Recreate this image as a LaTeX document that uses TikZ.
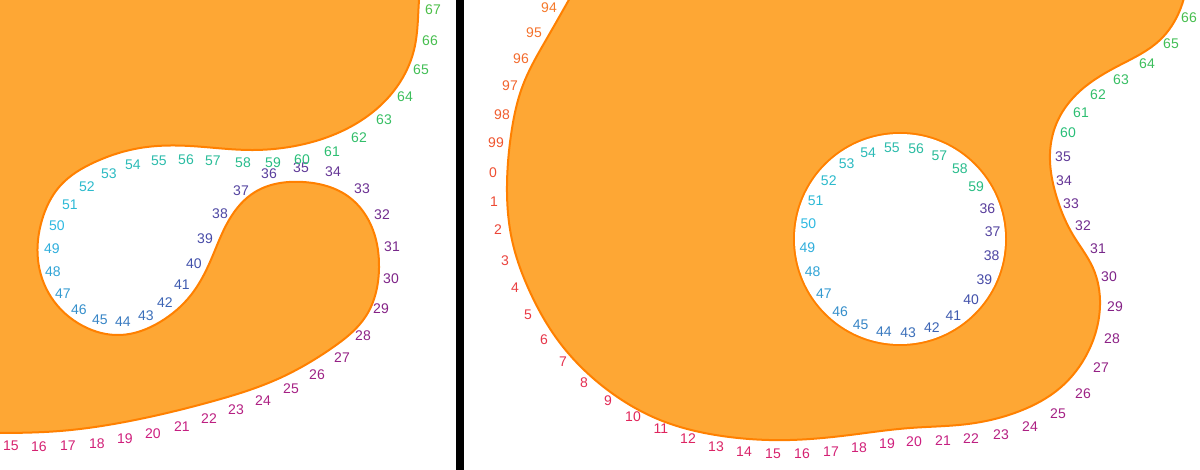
\documentclass[tikz,border=0pt]{standalone}
\usepackage{fontspec}
\setmainfont{Liberation Sans}
\usepackage{tikz}
\usetikzlibrary{hobby}

\definecolor{blobfill}{RGB}{254,167,52}
\definecolor{blobline}{RGB}{255,128,0}
% label palette, one colour every ten numbers
\definecolor{pal0}{RGB}{238,78,48}
\definecolor{pal1}{RGB}{225,38,90}
\definecolor{pal2}{RGB}{205,30,128}
\definecolor{pal3}{RGB}{125,35,135}
\definecolor{pal4}{RGB}{65,80,170}
\definecolor{pal5}{RGB}{45,185,225}
\definecolor{pal6}{RGB}{40,190,120}
\definecolor{pal7}{RGB}{90,190,50}
\definecolor{pal8}{RGB}{190,180,40}
\definecolor{pal9}{RGB}{250,150,40}
\definecolor{pal10}{RGB}{238,78,48}
\newcommand{\numcolor}[1]{%
  \pgfmathtruncatemacro\numlo{floor(#1/10)}%
  \pgfmathtruncatemacro\numhi{\numlo+1}%
  \pgfmathtruncatemacro\numpc{100-10*(#1-10*\numlo)}%
  \colorlet{numcol}{pal\numlo!\numpc!pal\numhi}}

\begin{document}
\begin{tikzpicture}[x=0.75pt,y=-0.75pt,
    blob/.style={fill=blobfill,draw=blobline,line width=1.5pt},
    num/.style={inner sep=0pt,font=\fontsize{10.5}{12}\selectfont}]
  \useasboundingbox (0,0) rectangle (1200,470);
  % left panel
  \begin{scope}
    \clip (0,0) rectangle (456,470);
    % draw shape
    \filldraw[blob,use Hobby shortcut] (421,-20) .. (419,0) .. (414,50)
      .. (393,92) .. (352,126) .. (300,145) .. (250,150) .. (190,146)
      .. (140,148) .. (95,162) .. (60,186) .. (42,220) .. (38,260)
      .. (51,297) .. (83,326) .. (120,335) .. (160,322) .. (191,295)
      .. (210,262) .. (229,220) .. (255,192) .. (303,182) .. (349,197)
      .. (373,230) .. (379,268) .. (366,316) .. (332,348) .. (280,378)
      .. (210,402) .. (130,421) .. (60,431) .. (0,433) .. (-20,433)
      -- (-40,-40) -- cycle;
    % draw labels
    \foreach \k/\x/\y in {15/11/446, 16/39/447, 17/68/446, 18/97/444,
        19/125/439, 20/153/434, 21/182/427, 22/209/419, 23/236/410,
        24/263/401, 25/291/389, 26/317/375, 27/342/358, 28/363/336,
        29/381/309, 30/391/279, 31/392/247, 32/382/215, 33/362/189,
        34/333/172, 35/301/168, 36/269/174, 37/241/191, 38/220/214,
        39/205/239, 40/194/264, 41/182/285, 42/165/303, 43/146/316,
        44/123/322, 45/100/320, 46/79/310, 47/63/294, 48/53/272,
        49/52/249, 50/57/226, 51/70/205, 52/87/187, 53/109/174,
        54/133/165, 55/159/161, 56/186/160, 57/213/161, 58/243/163,
        59/273/163, 60/302/160, 61/332/152, 62/359/138, 63/384/120,
        64/405/97, 65/421/70, 66/430/41, 67/433/10} {
      \numcolor{\k}
      \node[num,text=numcol] (l\k) at (\x,\y) {\k};
    }
  \end{scope}
  % divider
  \fill (456,0) rectangle (464,470);
  % right panel
  \begin{scope}
    \clip (464,0) rectangle (1200,470);
    % draw shape with its hole
    \filldraw[blob,even odd rule,use Hobby shortcut] (580,-20) .. (546,40)
      .. (523,85) .. (511,135) .. (507,185) .. (512,240) .. (530,292)
      .. (560,343) .. (605,388) .. (660,420) .. (722,436) .. (790,440)
      .. (850,435) .. (910,428) .. (968,424) .. (1020,411) .. (1060,388)
      .. (1088,352) .. (1100,305) .. (1093,268) .. (1073,235) .. (1056,195)
      .. (1050,153) .. (1058,120) .. (1080,91) .. (1120,65) .. (1160,40)
      .. (1180,10) .. (1187,-20) -- cycle;
    \draw[blob] (900,239) circle[radius=106];
    \fill[white] (900,239) circle[radius=105];
    % draw outer labels
    \foreach \k/\x/\y in {94/549/8, 95/534/33, 96/521/59, 97/510/86,
        98/502/115, 99/496/143, 0/493/173, 1/494/202, 2/498/230,
        3/505/261, 4/515/288, 5/528/315, 6/544/340, 7/563/362,
        8/584/383, 9/608/401, 10/633/417, 11/661/429, 12/688/439,
        13/716/447, 14/744/452, 15/773/454, 16/802/454, 17/831/452,
        18/859/448, 19/887/444, 20/914/442, 21/943/441, 22/971/439,
        23/1001/435, 24/1030/427, 25/1058/414, 26/1083/394, 27/1101/368,
        28/1112/339, 29/1115/307, 30/1109/277, 31/1098/249, 32/1083/226,
        33/1071/204, 34/1064/181, 35/1063/157, 60/1068/133, 61/1081/113,
        62/1098/95, 63/1121/80, 64/1147/64, 65/1171/44, 66/1189/18} {
      \numcolor{\k}
      \node[num,text=numcol] (r\k) at (\x,\y) {\k};
    }
    % draw labels round the hole
    \foreach \k in {36,...,59} {
      \numcolor{\k}
      \pgfmathsetmacro\a{15*\k-560}
      \node[num,text=numcol] (h\k) at ([shift={(\a:93)}]900,240) {\k};
    }
  \end{scope}
\end{tikzpicture}
\end{document}
